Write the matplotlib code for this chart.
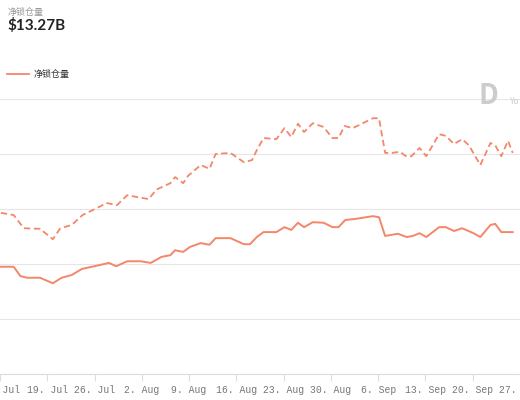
import datetime as dt

import matplotlib
matplotlib.use("Agg")
import matplotlib.pyplot as plt
import matplotlib.dates as mdates

plt.rcParams["font.family"] = ["Noto Sans CJK SC", "DejaVu Sans"]

# days after 12 Jul 2021, values in chart units (grid step = 1)
start = dt.datetime(2021, 7, 12, 3)
solid_days = [0.0, 1.9, 2.9, 3.9, 5.8, 7.7, 9.0, 10.5, 12.0, 14.6, 16.0, 17.1, 18.7, 20.7,
              22.2, 23.8, 25.1, 25.8, 27.0, 28.0, 29.6, 30.9, 31.8, 34.0, 36.0, 36.9, 37.9,
              38.9, 40.8, 42.0, 43.0, 44.0, 44.9, 46.2, 47.8, 49.1, 50.0, 51.0, 52.5, 55.1,
              56.0, 56.9, 58.8, 60.1, 61.0, 62.0, 63.0, 64.9, 65.9, 67.1, 68.3, 70.0, 71.0,
              72.5, 73.2, 74.1, 75.8]
solid_vals = [1.95, 1.95, 1.78, 1.75, 1.75, 1.65, 1.75, 1.80, 1.91, 1.98, 2.02, 1.96, 2.05,
              2.05, 2.02, 2.13, 2.16, 2.25, 2.22, 2.31, 2.38, 2.35, 2.47, 2.47, 2.36, 2.36,
              2.49, 2.58, 2.58, 2.67, 2.62, 2.75, 2.67, 2.76, 2.75, 2.67, 2.67, 2.80, 2.82,
              2.87, 2.85, 2.51, 2.55, 2.49, 2.51, 2.56, 2.49, 2.67, 2.67, 2.60, 2.65, 2.56,
              2.49, 2.71, 2.73, 2.58, 2.58]
dash_days = [0.0, 1.9, 3.4, 5.8, 7.7, 8.8, 10.5, 12.1, 14.6, 15.6, 17.2, 18.7, 21.9, 23.0,
             25.1, 25.8, 27.0, 27.7, 29.6, 30.9, 31.8, 34.0, 36.0, 37.2, 37.9, 38.9, 40.8,
             42.0, 43.0, 44.0, 44.9, 46.2, 47.8, 49.1, 50.0, 50.9, 52.1, 55.1, 56.0, 56.9,
             57.9, 59.1, 60.1, 60.8, 62.0, 63.0, 64.9, 65.9, 67.1, 68.3, 69.3, 71.0, 72.5,
             73.2, 74.1, 75.1, 75.8]
dash_vals = [2.93, 2.89, 2.65, 2.64, 2.45, 2.65, 2.71, 2.89, 3.04, 3.11, 3.07, 3.25, 3.18,
             3.35, 3.47, 3.58, 3.47, 3.60, 3.80, 3.73, 4.00, 4.02, 3.85, 3.89, 4.07, 4.29,
             4.27, 4.47, 4.31, 4.55, 4.40, 4.56, 4.49, 4.29, 4.29, 4.51, 4.47, 4.65, 4.65,
             4.02, 4.02, 4.04, 3.95, 3.96, 4.11, 3.96, 4.36, 4.33, 4.18, 4.27, 4.16, 3.80,
             4.20, 4.16, 3.96, 4.24, 4.02]
tick_dates = [dt.datetime(2021, 7, 12) + dt.timedelta(days=7 * i) for i in range(12)]

col = "#f4866a"
fig = plt.figure(figsize=(5.2, 4.0), dpi=100)
ax = fig.add_axes([0, 0.065, 1, 0.6875])
sx = [start + dt.timedelta(days=d) for d in solid_days]
dx = [start + dt.timedelta(days=d) for d in dash_days]
ax.plot(sx, solid_vals, color=col, lw=1.4)
ax.plot(dx, dash_vals, color=col, lw=1.3, ls=(0, (3.5, 2)))

ax.set_xlim(start, start + dt.timedelta(days=75.8))
ax.set_ylim(0, 5)
ax.set_yticks(range(6))
ax.yaxis.grid(True, color="#e6e6e6", lw=0.8)
ax.tick_params(axis="y", left=False, labelleft=False)
ax.set_xticks(tick_dates)
ax.xaxis.set_major_formatter(mdates.DateFormatter("%-d. %b"))
ax.tick_params(axis="x", length=5, color="#dddddd", labelsize=7, labelcolor="#777777", pad=3)
for lab in ax.get_xticklabels():
    lab.set_family("Liberation Mono")
for s in ["top", "left", "right"]:
    ax.spines[s].set_visible(False)
ax.spines["bottom"].set_color("#dddddd")

fig.text(0.015, 0.97, "净锁仓量", fontsize=6.5, color="#999999", va="center")
fig.text(0.015, 0.935, "$13.27B", fontsize=11, color="#222222", va="center",
         family="Lato", weight="bold")
fig.add_artist(plt.Line2D([0.013, 0.055], [0.815, 0.815], color=col, lw=1.3))
fig.text(0.065, 0.815, "净锁仓量", fontsize=6.5, color="#333333", va="center")
fig.text(0.92, 0.76, "D", fontsize=20, color="#cccccc", weight="bold", va="center")
fig.text(0.98, 0.745, "Yo", fontsize=6, color="#cccccc", va="center")

fig.savefig("out.png", dpi=100)
